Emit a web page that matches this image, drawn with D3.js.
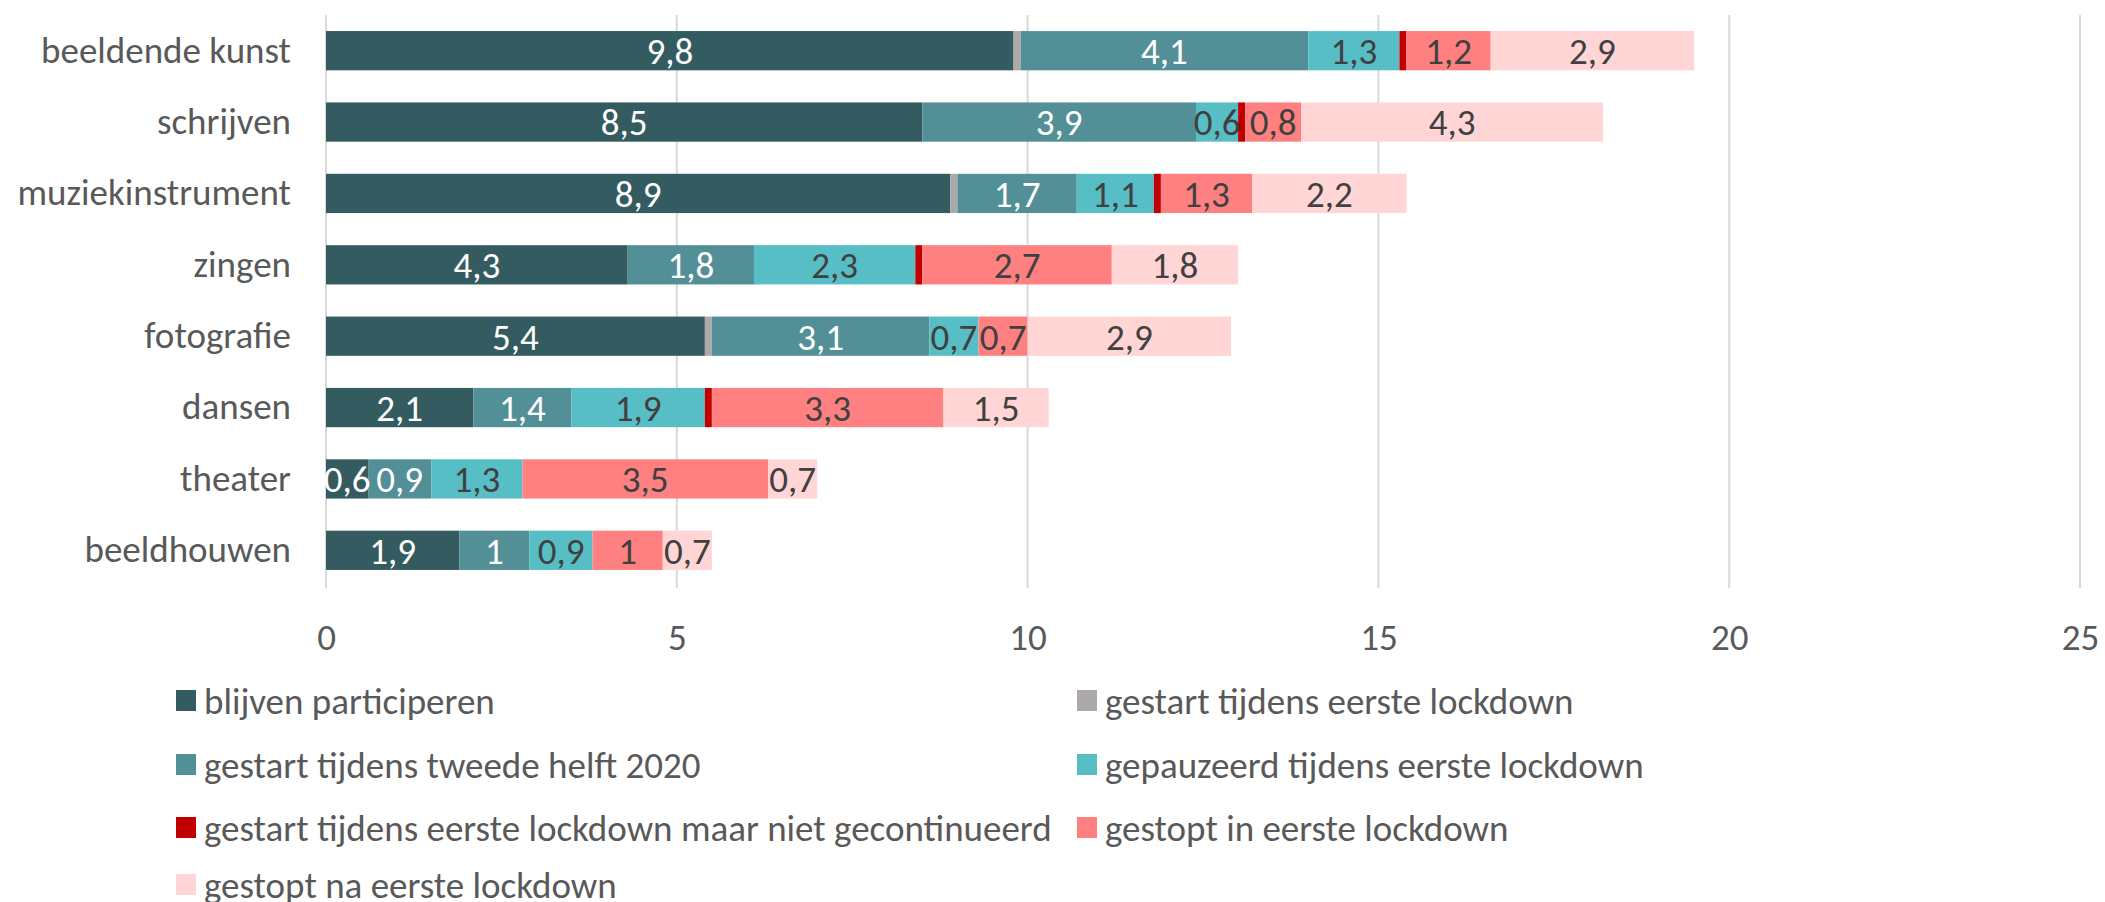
<!DOCTYPE html>
<html>
<head>
<meta charset="utf-8">
<script src="https://cdn.jsdelivr.net/npm/d3@7"></script>
<style>
  html, body { margin: 0; padding: 0; background: #fff; }
  svg text { font-family: Carlito, Lato, sans-serif; }
</style>
</head>
<body>
<svg id="chart" width="2105" height="902"></svg>
<script>
// categories, top to bottom
const categories = ['beeldende kunst', 'schrijven', 'muziekinstrument', 'zingen',
  'fotografie', 'dansen', 'theater', 'beeldhouwen'];

const seriesNames = [
  'blijven participeren',
  'gestart tijdens eerste lockdown',
  'gestart tijdens tweede helft 2020',
  'gepauzeerd tijdens eerste lockdown',
  'gestart tijdens eerste lockdown maar niet gecontinueerd',
  'gestopt in eerste lockdown',
  'gestopt na eerste lockdown',
];
const seriesColors = ['#335B60', '#ADA9A9', '#538F96', '#58BEC5', '#C00000', '#FF8080', '#FFD5D5'];
const labelColors = ['#fff', null, '#fff', '#404040', null, '#404040', '#404040'];

// one array per series, same order as categories
const blijven      = [9.8, 8.5, 8.9, 4.3, 5.4, 2.1, 0.6, 1.9];
const gestartEerst = [0.1, 0, 0.1, 0, 0.1, 0, 0, 0];
const gestartTwee  = [4.1, 3.9, 1.7, 1.8, 3.1, 1.4, 0.9, 1];
const gepauzeerd   = [1.3, 0.6, 1.1, 2.3, 0.7, 1.9, 1.3, 0.9];
const nietGecont   = [0.1, 0.1, 0.1, 0.1, 0, 0.1, 0, 0];
const gestoptIn    = [1.2, 0.8, 1.3, 2.7, 0.7, 3.3, 3.5, 1];
const gestoptNa    = [2.9, 4.3, 2.2, 1.8, 2.9, 1.5, 0.7, 0.7];
const seriesValues = [blijven, gestartEerst, gestartTwee, gepauzeerd, nietGecont, gestoptIn, gestoptNa];

const xTicks = [0, 5, 10, 15, 20, 25];

const PLOT = {left: 326, right: 2080, top: 15, bottom: 586};
const FONT_SIZE = 37;

const svg = d3.select('#chart');

const scale = {
  x: d3.scaleLinear().domain([0, 25]).range([PLOT.left, PLOT.right]),
  y: d3.scaleBand().domain(categories).range([PLOT.top, PLOT.bottom])
    .paddingInner(0.45).paddingOuter(0.225),
};

// gridlines
svg.append('g')
  .selectAll('line')
  .data(xTicks)
  .join('line')
  .attr('x1', (d) => scale.x(d))
  .attr('x2', (d) => scale.x(d))
  .attr('y1', PLOT.top)
  .attr('y2', PLOT.bottom + 2)
  .attr('stroke', '#D9D9D9')
  .attr('stroke-width', 2);

// stack the data
const rows = categories.map((c, i) => {
  const row = {category: c};
  seriesNames.forEach((s, j) => { row[s] = seriesValues[j][i]; });
  return row;
});
const stacked = d3.stack().keys(seriesNames)(rows);

const fmt = (v) => String(v).replace('.', ',');

const layers = svg.append('g')
  .selectAll('g')
  .data(stacked)
  .join('g')
  .attr('fill', (d, i) => seriesColors[i]);

layers.selectAll('rect')
  .data((d) => d)
  .join('rect')
  .attr('x', (d) => scale.x(d[0]))
  .attr('y', (d) => scale.y(d.data.category))
  .attr('width', (d) => scale.x(d[1]) - scale.x(d[0]))
  .attr('height', scale.y.bandwidth());

// data labels
stacked.forEach((layer, i) => {
  if (!labelColors[i]) return;
  svg.append('g')
    .selectAll('text')
    .data(layer.filter((d) => d[1] - d[0] > 0))
    .join('text')
    .attr('x', (d) => (scale.x(d[0]) + scale.x(d[1])) / 2)
    .attr('y', (d) => scale.y(d.data.category) + scale.y.bandwidth() / 2)
    .attr('dy', '0.36em')
    .attr('text-anchor', 'middle')
    .attr('font-size', FONT_SIZE)
    .attr('fill', labelColors[i])
    .text((d) => fmt(+(d[1] - d[0]).toFixed(1)));
});

// y axis labels
const yAxis = svg.append('g')
  .attr('transform', `translate(${PLOT.left},0)`)
  .call(d3.axisLeft(scale.y).tickSize(0).tickPadding(35));
yAxis.select('.domain').remove();
yAxis.selectAll('text')
  .attr('font-size', FONT_SIZE)
  .attr('fill', '#595959')
  .style('font-family', 'Carlito, Lato, sans-serif');

// x axis labels
const xAxis = svg.append('g')
  .attr('transform', `translate(0,${PLOT.bottom})`)
  .call(d3.axisBottom(scale.x).tickValues(xTicks).tickSize(0).tickPadding(38).tickFormat(fmt));
xAxis.select('.domain').remove();
xAxis.selectAll('text')
  .attr('font-size', FONT_SIZE)
  .attr('fill', '#595959')
  .style('font-family', 'Carlito, Lato, sans-serif');

// legend, two columns
const legendCols = [176, 1077];
const legendRows = [701, 765, 828, 885];
const legend = svg.append('g')
  .selectAll('g')
  .data(seriesNames)
  .join('g')
  .attr('transform', (d, i) => `translate(${legendCols[i % 2]},${legendRows[Math.floor(i / 2)]})`);

legend.append('rect')
  .attr('x', 0)
  .attr('y', -11)
  .attr('width', 20)
  .attr('height', 21)
  .attr('fill', (d, i) => seriesColors[i]);

legend.append('text')
  .attr('x', 28)
  .attr('dy', '0.35em')
  .attr('font-size', FONT_SIZE)
  .attr('fill', '#595959')
  .text((d) => d);
</script>
</body>
</html>
